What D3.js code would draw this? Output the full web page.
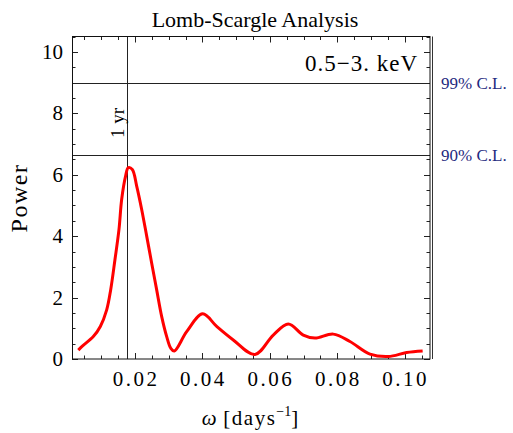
<!DOCTYPE html>
<html><head><meta charset="utf-8">
<script src="https://cdn.jsdelivr.net/npm/d3@7"></script>
<style>body{margin:0;background:#fff}svg{display:block}text{font-family:"Liberation Serif","Times New Roman",serif}</style>
</head><body><svg id="c" width="513" height="433"></svg>
<script>
const omega = [0.00317,0.00436,0.00762,0.00970,0.01159,0.01277,0.01405,0.01523,0.01604,0.01721,0.01800,0.01919,0.02049,0.02197,0.02346,0.02494,0.02642,0.02791,0.02939,0.03061,0.03164,0.03532,0.04007,0.04422,0.04914,0.05558,0.06101,0.06546,0.06991,0.07337,0.07880,0.08375,0.08969,0.09511,0.10057,0.10532];
const power = [0.29,0.42,0.73,1.06,1.60,2.25,3.24,4.21,5.20,5.96,6.23,6.17,5.63,4.87,4.00,3.12,2.25,1.38,0.73,0.35,0.26,0.89,1.47,1.06,0.62,0.15,0.78,1.14,0.78,0.68,0.81,0.57,0.16,0.08,0.21,0.26];
const xTicks = [0.02,0.04,0.06,0.08,0.10];
const yTicks = [0,2,4,6,8,10];
const confLevels = [9.0, 6.63];
const confLabels = ["99% C.L.","90% C.L."];
const yearOmega = 0.0175;

const svg = d3.select("#c");
const L=72,R=430,T=36.5,B=359;
const x = d3.scaleLinear().domain([0.0013,0.1075]).range([L,R]);
const y = d3.scaleLinear().domain([0,10.5]).range([B,T]);

// title
svg.append("text").attr("x",255).attr("y",27).attr("text-anchor","middle").attr("font-size",22).text("Lomb-Scargle Analysis");

// ticks
const g = svg.append("g").attr("stroke","#222").attr("stroke-width",1);
const xMinor = d3.range(0,0.1076,0.005).filter(v=>v>=0.0013);
xMinor.forEach(v=>{
  const major = Math.abs(v/0.02-Math.round(v/0.02))<1e-6;
  const len = major?6:3.5;
  const px = Math.round(x(v))+0.5;
  g.append("line").attr("x1",px).attr("x2",px).attr("y1",B).attr("y2",B-len);
  g.append("line").attr("x1",px).attr("x2",px).attr("y1",T).attr("y2",T+len);
});
d3.range(0,10.51,0.5).forEach(v=>{
  const major = v%2===0;
  const len = major?6:3.5;
  const py = Math.round(y(v))+0.5;
  g.append("line").attr("x1",L).attr("x2",L+len).attr("y1",py).attr("y2",py);
  g.append("line").attr("x1",R).attr("x2",R-len).attr("y1",py).attr("y2",py);
});

// tick labels
svg.append("g").selectAll("text").data(xTicks).join("text")
  .attr("x",d=>x(d)+1).attr("y",386).attr("text-anchor","middle").attr("font-size",21)
  .attr("letter-spacing","2.5px").text(d=>d.toFixed(2));
svg.append("g").selectAll("text").data(yTicks).join("text")
  .attr("x",63).attr("y",d=>y(d)+7).attr("text-anchor","end").attr("font-size",21).text(d=>d);

// axis labels
svg.append("text").attr("transform","translate(27,198) rotate(-90)").attr("text-anchor","middle")
  .attr("font-size",24).attr("letter-spacing","1.5px").text("Power");
const xl = svg.append("text").attr("x",250).attr("y",425).attr("text-anchor","middle").attr("font-size",21);
xl.append("tspan").attr("font-style","italic").text("ω");
xl.append("tspan").attr("letter-spacing","1.5px").text(" [days");
xl.append("tspan").attr("font-size",14).attr("dy",-9).text("−1");
xl.append("tspan").attr("dy",9).text("]");

// confidence lines
svg.append("g").selectAll("line").data(confLevels).join("line")
  .attr("x1",L).attr("x2",R).attr("y1",d=>Math.round(y(d))+0.5).attr("y2",d=>Math.round(y(d))+0.5)
  .attr("stroke","#222").attr("stroke-width",1);
svg.append("g").selectAll("text").data(confLevels).join("text")
  .attr("x",441).attr("y",d=>y(d)+6).attr("font-size",17).attr("fill","#1f2a80")
  .text((d,i)=>confLabels[i]);

// 1 yr line
svg.append("line").attr("x1",Math.round(x(yearOmega))+0.5).attr("x2",Math.round(x(yearOmega))+0.5)
  .attr("y1",T).attr("y2",B).attr("stroke","#222").attr("stroke-width",1);
svg.append("text").attr("transform",`translate(${x(yearOmega)-3},123) rotate(-90)`).attr("text-anchor","middle")
  .attr("font-size",19).text("1 yr");

// energy label
svg.append("text").attr("x",418).attr("y",71).attr("text-anchor","end").attr("font-size",23)
  .attr("letter-spacing","1px").text("0.5−3. keV");

// curve
svg.append("path").datum(omega.map((o,i)=>[o,power[i]]))
  .attr("d",d3.line().x(d=>x(d[0])).y(d=>y(d[1])).curve(d3.curveCatmullRom.alpha(0.5)))
  .attr("fill","none").attr("stroke","#ff0000").attr("stroke-width",3).attr("stroke-linejoin","round");

// frame
svg.append("rect").attr("x",L+0.5).attr("y",T).attr("width",R-L-0.5).attr("height",B-T)
  .attr("fill","none").attr("stroke","#111").attr("stroke-width",1);
svg.append("line").attr("x1",R+2.5).attr("x2",R+2.5).attr("y1",T).attr("y2",B).attr("stroke","#333").attr("stroke-width",1);
</script></body></html>
